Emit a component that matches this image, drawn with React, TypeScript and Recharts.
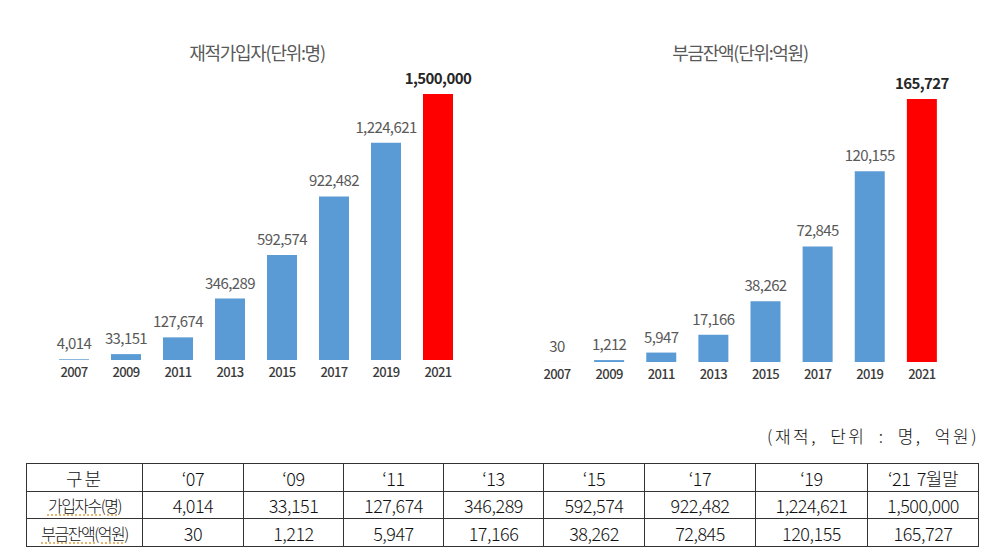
import React from 'react';
import { BarChart, Bar, XAxis, YAxis, Cell, LabelList } from 'recharts';

const years = ['2007', '2009', '2011', '2013', '2015', '2017', '2019', '2021'];
const members = [4014, 33151, 127674, 346289, 592574, 922482, 1224621, 1500000];
const balances = [30, 1212, 5947, 17166, 38262, 72845, 120155, 165727];
const memberTitle = '재적가입자(단위:명)';
const balanceTitle = '부금잔액(단위:억원)';
const tableHeader = ['구분', '‘07', '‘09', '‘11', '‘13', '‘15', '‘17', '‘19', '‘21 7월말'];
const rowLabels = ['가입자수(명)', '부금잔액(억원)'];
const unitNote = '(재적, 단위 : 명, 억원)';

const FONT = '"Noto Sans CJK KR", "Noto Sans", sans-serif';
const BLUE = '#5B9BD5';
const RED = '#FF0000';

const colWidths = [116, 101, 100, 100, 100, 101, 111, 112, 111];
const rowHeights = [28, 27, 28];

function fmt(v: number) {
  return Number(v).toLocaleString('en-US');
}

function makeLabel(lastValue: number) {
  return (props: any) => {
    const { x, y, width, value } = props;
    const isLast = Number(value) === lastValue;
    return (
      <text
        x={Number(x) + Number(width) / 2}
        y={Number(y) - 10}
        textAnchor="middle"
        fontFamily={FONT}
        fontSize={15}
        letterSpacing={-0.6}
        fill={isLast ? '#262626' : '#595959'}
        fontWeight={isLast ? 700 : 400}
      >
        {fmt(Number(value))}
      </text>
    );
  };
}

function YearTick(props: any) {
  const { x, y, payload } = props;
  return (
    <text
      x={x}
      y={Number(y) + 9}
      textAnchor="middle"
      fontFamily={FONT}
      fontSize={13}
      fontWeight={500}
      letterSpacing={-0.6}
      fill="#3a3a3a"
    >
      {payload.value}
    </text>
  );
}

type PanelProps = {
  values: number[];
  max: number;
  left: number;
  margin: { top: number; right: number; bottom: number; left: number };
  title: string;
  titleCenter: number;
};

function Panel({ values, max, left, margin, title, titleCenter }: PanelProps) {
  const data = years.map((y, i) => ({ year: y, value: values[i] }));
  const last = values[values.length - 1];
  return (
    <>
      <div
        style={{
          position: 'absolute',
          left: titleCenter - 150,
          top: 40,
          width: 300,
          height: 24,
          lineHeight: '24px',
          textAlign: 'center',
          fontFamily: FONT,
          fontSize: 18,
          letterSpacing: -1.3,
          color: '#595959',
        }}
      >
        {title}
      </div>
      <div style={{ position: 'absolute', left, top: 0 }}>
        <BarChart width={500} height={400} data={data} margin={margin} barSize={30}>
          <XAxis
            dataKey="year"
            axisLine={false}
            tickLine={false}
            interval={0}
            height={30}
            tick={<YearTick />}
          />
          <YAxis hide domain={[0, max]} />
          <Bar dataKey="value" isAnimationActive={false}>
            {data.map((d, i) => (
              <Cell key={d.year} fill={i === data.length - 1 ? RED : BLUE} />
            ))}
            <LabelList dataKey="value" content={makeLabel(last)} />
          </Bar>
        </BarChart>
      </div>
    </>
  );
}

export default function App() {
  const rows = [members, balances];
  const cellBase: React.CSSProperties = {
    border: '1px solid #333',
    padding: 0,
    textAlign: 'center',
    verticalAlign: 'middle',
    fontFamily: FONT,
    fontSize: 18,
    fontWeight: 300,
    color: '#111',
    overflow: 'hidden',
    whiteSpace: 'nowrap',
  };
  const squiggle: React.CSSProperties = {
    textDecoration: 'underline dotted #e0a040',
    textUnderlineOffset: 3,
  };
  return (
    <div style={{ position: 'absolute', left: 0, top: 0, width: 1000, height: 556, background: '#fff', overflow: 'hidden' }}>
      <Panel
        values={members}
        max={1500000}
        left={0}
        margin={{ top: 94, right: 36, bottom: 10, left: 48 }}
        title={memberTitle}
        titleCenter={257}
      />
      <Panel
        values={balances}
        max={165727}
        left={500}
        margin={{ top: 99, right: 52, bottom: 8, left: 31 }}
        title={balanceTitle}
        titleCenter={740}
      />
      <div
        style={{
          position: 'absolute',
          right: 21,
          top: 423,
          fontFamily: FONT,
          fontSize: 17,
          fontWeight: 300,
          letterSpacing: 2.5,
          wordSpacing: 6,
          color: '#111',
          whiteSpace: 'nowrap',
        }}
      >
        {unitNote}
      </div>
      <table
        style={{
          position: 'absolute',
          left: 26,
          top: 463,
          borderCollapse: 'collapse',
          tableLayout: 'fixed',
          width: colWidths.reduce((a, b) => a + b, 0),
        }}
      >
        <colgroup>
          {colWidths.map((w, i) => (
            <col key={i} style={{ width: w }} />
          ))}
        </colgroup>
        <tbody>
          <tr style={{ height: rowHeights[0] }}>
            {tableHeader.map((h, i) => (
              <td key={i} style={{ ...cellBase, letterSpacing: i === 0 ? 2 : -0.5, wordSpacing: i === 8 ? 3 : 0 }}>
                {h}
              </td>
            ))}
          </tr>
          {rows.map((vals, r) => (
            <tr key={r} style={{ height: rowHeights[r + 1] }}>
              <td style={{ ...cellBase, fontSize: 16, letterSpacing: -1.5 }}>
                <span style={squiggle}>{rowLabels[r]}</span>
              </td>
              {vals.map((v, i) => (
                <td key={i} style={{ ...cellBase, letterSpacing: -0.5 }}>
                  {fmt(v)}
                </td>
              ))}
            </tr>
          ))}
        </tbody>
      </table>
    </div>
  );
}
